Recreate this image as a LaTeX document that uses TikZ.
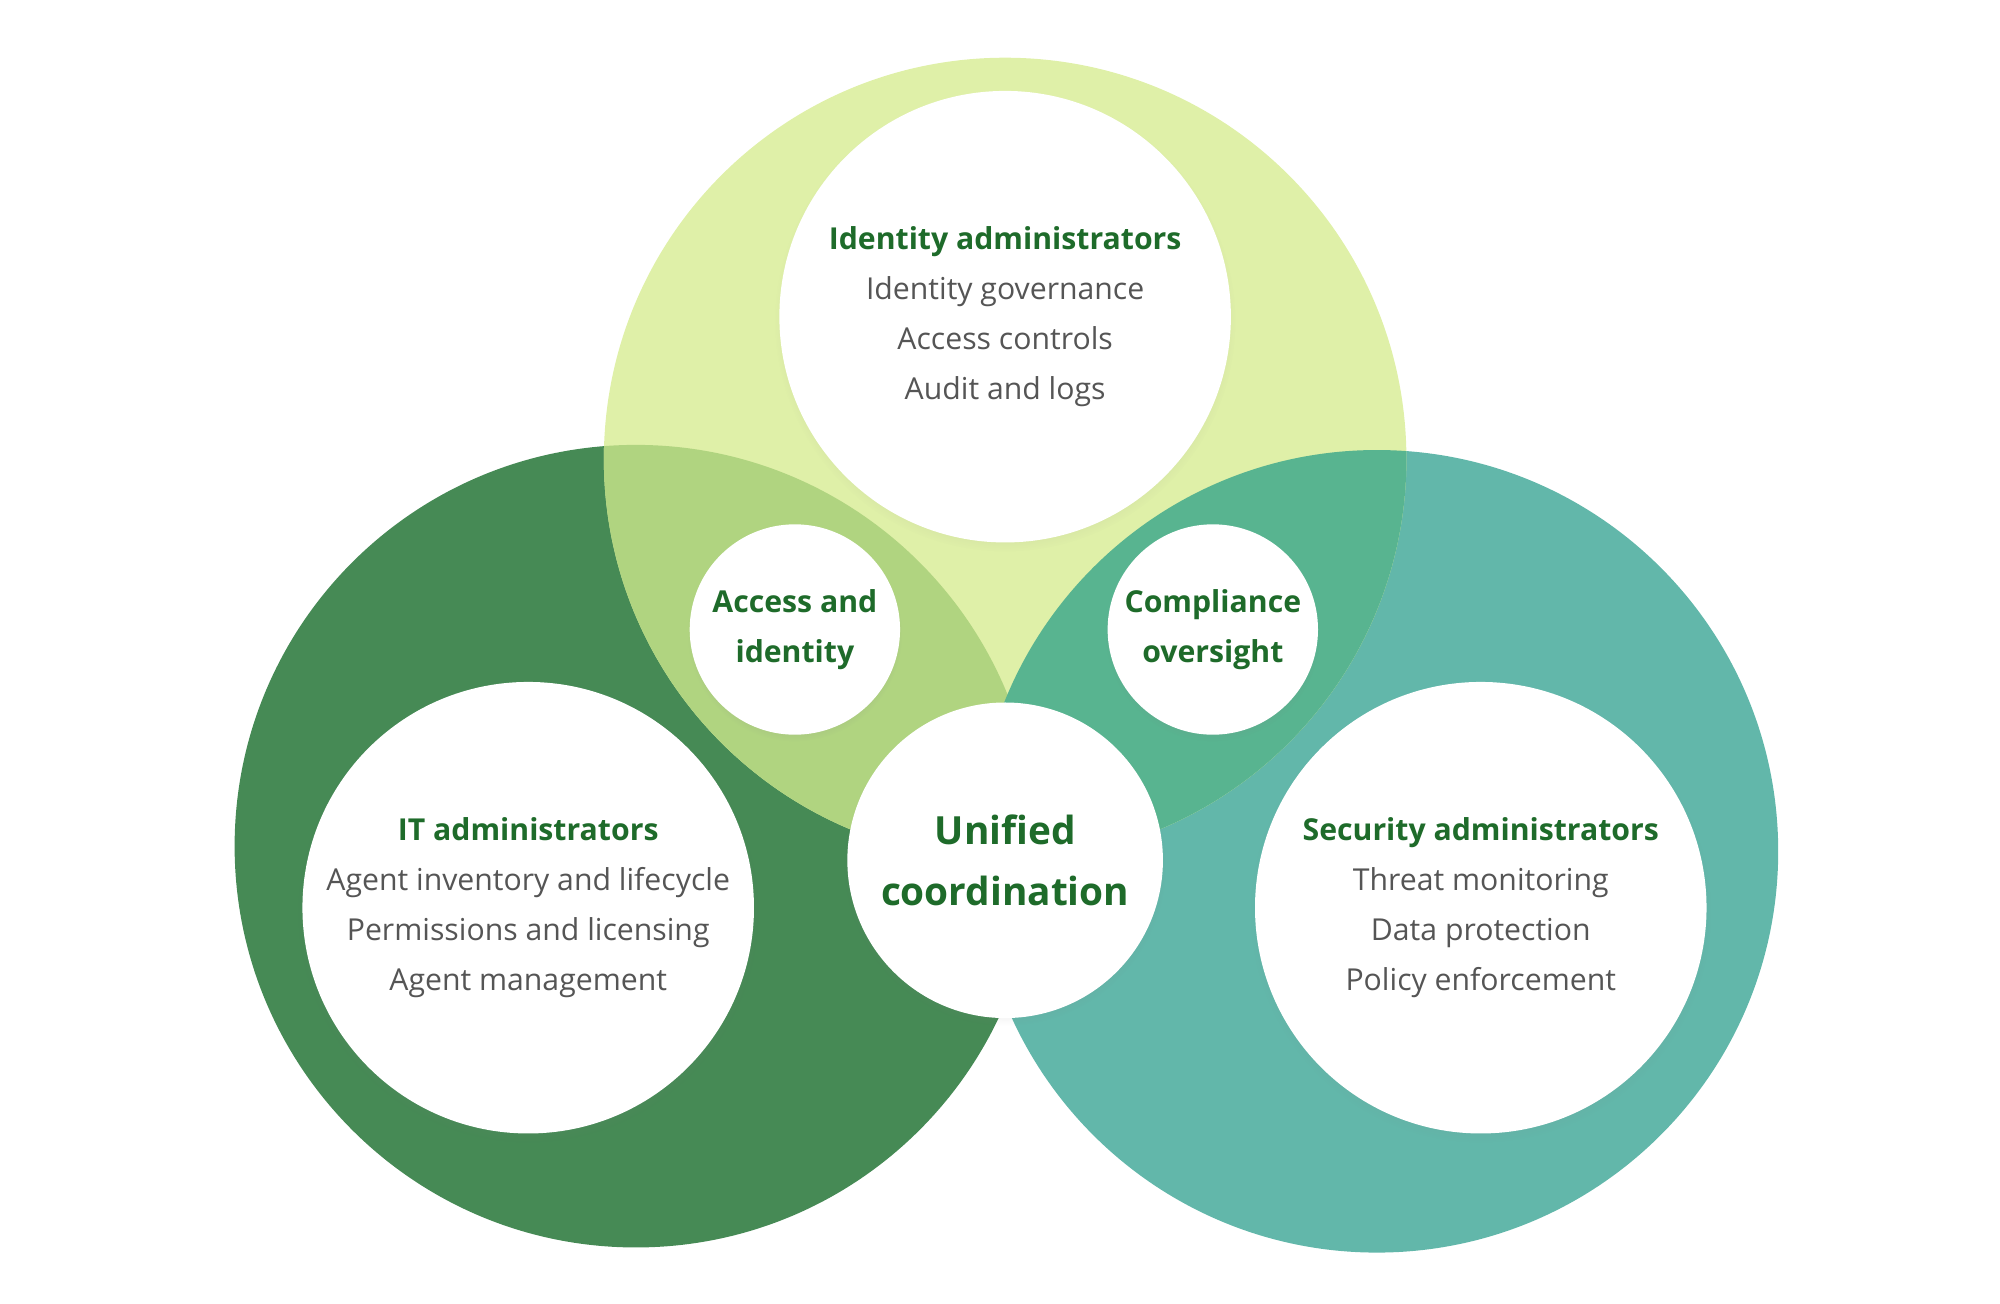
\documentclass[tikz,border=0pt]{standalone}
\usepackage{fontspec}
\setmainfont{Open Sans}
\usetikzlibrary{shadows}
\definecolor{itgreen}{HTML}{468A55}
\definecolor{idgreen}{HTML}{DFF0A8}
\definecolor{secteal}{HTML}{62B7AA}
\definecolor{itid}{HTML}{B0D480}
\definecolor{idsec}{HTML}{58B490}
\definecolor{headgreen}{HTML}{1E6B2A}
\definecolor{bodygray}{HTML}{555555}
\begin{document}
\begin{tikzpicture}[x=0.01cm, y=-0.01cm]
	\tikzset{
		role/.style = {circle, fill=white, draw=none, minimum size=3.52cm, inner sep=0pt, align=center,
			text=bodygray, font=\fontsize{6.7pt}{11.1pt}\selectfont,
			circular drop shadow={shadow xshift=0pt, shadow yshift=-1pt, opacity=.2, shadow scale=1.02}},
		link/.style = {role, minimum size=1.64cm, text=headgreen, font=\bfseries\fontsize{6.7pt}{11.1pt}\selectfont},
		hub/.style = {role, minimum size=2.46cm, text=headgreen, font=\bfseries\fontsize{8.6pt}{13.4pt}\selectfont}
	}
	\useasboundingbox (0,0) rectangle (1560,1017);
	% big circles
	\fill [itgreen] (496,660) circle (313);
	\fill [secteal] (1074,664) circle (313);
	\fill [idgreen] (784,358) circle (313);
	\begin{scope}
		\clip (496,660) circle (313);
		\fill [itid] (784,358) circle (313);
	\end{scope}
	\begin{scope}
		\clip (1074,664) circle (313);
		\fill [idsec] (784,358) circle (313);
	\end{scope}
	% white circles
	\node [role] (Identity) at (784,247) {{\color{headgreen}\bfseries Identity administrators}\\Identity governance\\Access controls\\Audit and logs};
	\node [role] (IT) at (412,708) {{\color{headgreen}\bfseries IT administrators}\\Agent inventory and lifecycle\\Permissions and licensing\\Agent management};
	\node [role] (Security) at (1155,708) {{\color{headgreen}\bfseries Security administrators}\\Threat monitoring\\Data protection\\Policy enforcement};
	\node [link] (AccessIdentity) at (620,491) {Access and\\identity};
	\node [link] (Compliance) at (946,491) {Compliance\\oversight};
	\node [hub] (Unified) at (784,671) {Unified\\coordination};
\end{tikzpicture}
\end{document}
